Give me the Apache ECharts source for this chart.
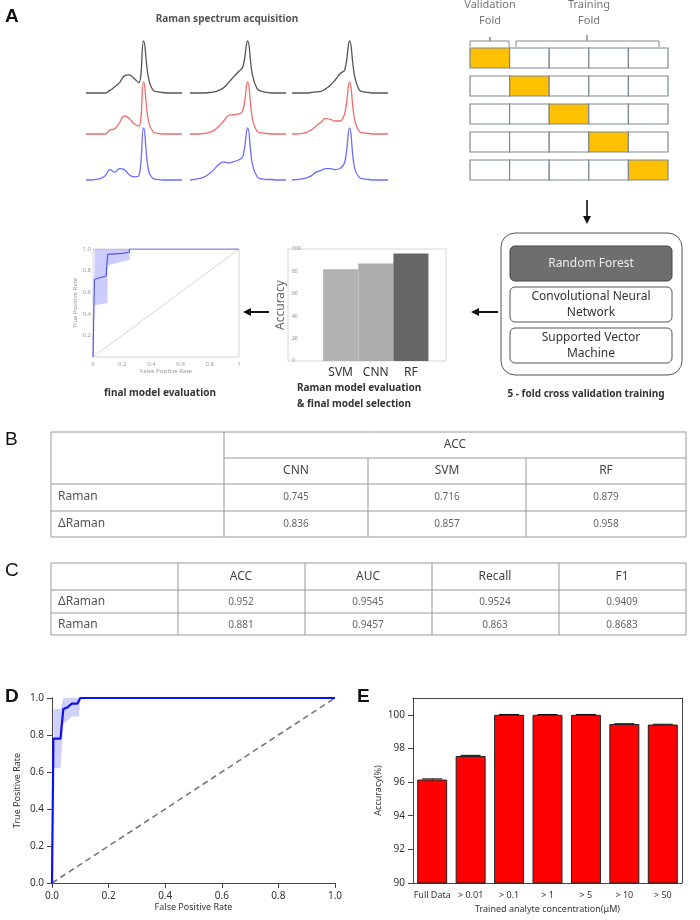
<!DOCTYPE html>
<html><head><meta charset="utf-8">
<script src="https://cdn.jsdelivr.net/npm/echarts@6/dist/echarts.min.js"></script>
<style>html,body{margin:0;padding:0;background:#fff}#c{width:700px;height:920px}</style>
</head><body><div id="c"></div>
<script>
// ---------- data ----------
const specX = [0,0.05,0.1,0.15,0.2,0.25,0.3,0.35,0.4,0.45,0.5,0.55,0.6,0.65,0.7,0.75,0.8,0.85,0.9,0.95,1];
const specBlack1 = [0,0,0,0,0,0.05,0.12,0.2,0.33,0.35,0.28,0.2,1,0.3,0.05,0.02,0.01,0,0,0,0];
const specRed1   = [0,0,0,0,0,0.08,0.1,0.22,0.35,0.3,0.2,0.15,1,0.25,0.04,0.01,0,0,0,0,0];
const specBlue1  = [0,0,0.01,0.03,0.08,0.2,0.15,0.22,0.2,0.1,0.06,0.08,1,0.2,0.03,0.01,0,0,0,0,0];
const specBlack2 = [0,0,0,0,0.01,0.02,0.05,0.1,0.2,0.3,0.4,0.5,1,0.35,0.08,0.03,0.01,0,0,0,0];
const specRed2   = [0,0,0,0.01,0.03,0.07,0.15,0.25,0.35,0.37,0.38,0.45,1,0.3,0.05,0.02,0.01,0,0,0,0];
const specBlue2  = [0,0.01,0.03,0.06,0.12,0.2,0.3,0.35,0.33,0.35,0.38,0.45,1,0.3,0.06,0.02,0.01,0.01,0,0,0];
const specBlack3 = [0,0,0,0,0.01,0.02,0.03,0.08,0.15,0.25,0.37,0.45,1,0.35,0.06,0.02,0.01,0,0,0,0];
const specRed3   = [0,0,0.01,0.03,0.08,0.15,0.22,0.3,0.28,0.25,0.25,0.4,1,0.3,0.05,0.02,0.01,0,0,0,0];
const specBlue3  = [0,0.01,0.02,0.04,0.08,0.15,0.18,0.22,0.22,0.2,0.22,0.35,1,0.25,0.05,0.02,0.01,0,0,0,0];

const foldRows = [0,1,2,3,4];
const foldCols = [0,1,2,3,4];
const validationCol = [0,1,2,3,4]; // validation fold column per row

const miniModels = ['SVM','CNN','RF'];
const miniAcc = [82,87,96];
const miniRocFpr = [0,0.01,0.09,0.1,0.2,0.25,0.25,1];
const miniRocTpr = [0,0.72,0.75,0.95,0.96,0.97,1,1];
const miniBand = [[0.01,0.48,1],[0.1,0.5,1],[0.1,0.85,1],[0.25,0.9,1],[0.25,1,1]];

const tableBModels = ['CNN','SVM','RF'];
const tableBRows = ['Raman','ΔRaman'];
const tableBVals = [['0.745','0.716','0.879'],['0.836','0.857','0.958']];
const tableCCols = ['ACC','AUC','Recall','F1'];
const tableCRows = ['ΔRaman','Raman'];
const tableCVals = [['0.952','0.9545','0.9524','0.9409'],['0.881','0.9457','0.863','0.8683']];

const rocFpr = [0,0.005,0.03,0.04,0.055,0.07,0.09,0.1,1];
const rocTpr = [0,0.78,0.78,0.94,0.95,0.97,0.97,1,1];
const rocBand = [[0.005,0.62,0.94],[0.03,0.62,0.94],[0.04,0.86,1],[0.07,0.9,1],[0.095,0.9,1],[0.1,1,1]];

const concCats = ['Full Data','> 0.01','> 0.1','> 1','> 5','> 10','> 50'];
const concAcc = [96.15,97.55,100,100,100,99.45,99.42];
const concErr = [0.04,0.04,0.02,0.02,0.02,0.02,0.02];

// ---------- build ----------
const grids=[], xAxes=[], yAxes=[], series=[], extraX=[], extraY=[];
function addGrid(g,x,y){grids.push(g);const i=grids.length-1;x.gridIndex=i;y.gridIndex=i;xAxes.push(x);yAxes.push(y);return i;}

// spectra
const specCols=[[specBlack1,specRed1,specBlue1],[specBlack2,specRed2,specBlue2],[specBlack3,specRed3,specBlue3]];
const colLeft=[86,190,292], rowBase=[93,134,180], specColors=['#555','#f26a6a','#6c6cff'];
specCols.forEach((col,ci)=>col.forEach((arr,ri)=>{
  const gi=addGrid({left:colLeft[ci],top:rowBase[ri]-52,width:96,height:52},
    {type:'value',min:0,max:1,show:false},{type:'value',min:0,max:1,show:false});
  series.push({type:'line',xAxisIndex:gi,yAxisIndex:gi,smooth:0.45,symbol:'none',clip:false,
    lineStyle:{color:specColors[ri],width:1.3},data:specX.map((x,k)=>[x,arr[k]])});
}));

// folds
const gF=addGrid({left:470,top:44,width:198,height:140},
  {type:'category',data:foldCols,show:false},{type:'category',data:foldRows,inverse:true,show:false});
const foldData=[];foldRows.forEach(r=>foldCols.forEach(c=>foldData.push([c,r,validationCol[r]===c?1:0])));
series.push({type:'custom',xAxisIndex:gF,yAxisIndex:gF,data:foldData,renderItem:(p,api)=>{
  const pt=api.coord([api.value(0),api.value(1)]);const s=api.size([1,1]);
  return {type:'rect',shape:{x:pt[0]-s[0]/2,y:pt[1]-s[1]/2+4,width:s[0],height:s[1]-8},
    style:{fill:api.value(2)?'#ffc000':'#fff',stroke:'#7d8790',lineWidth:1.2}};}});

// mini roc
const gR=addGrid({left:93,top:249,width:146,height:108},
  {type:'value',min:0,max:1,interval:0.2,axisLine:{show:false},axisTick:{show:false},splitLine:{show:false},
   axisLabel:{fontSize:6,color:'#999',margin:4},name:'False Positive Rate',nameLocation:'middle',nameGap:9,nameTextStyle:{fontSize:6,color:'#999'}},
  {type:'value',min:0,max:1,interval:0.2,axisLine:{show:false},axisTick:{show:false},splitLine:{show:false},
   axisLabel:{fontSize:6,color:'#999',margin:2,formatter:v=>v===0?'':v.toFixed(1)},name:'True Positive Rate',nameLocation:'middle',nameGap:14,nameTextStyle:{fontSize:6,color:'#999'}});
series.push({type:'custom',xAxisIndex:gR,yAxisIndex:gR,data:[0],renderItem:(p,api)=>{
  const up=miniBand.map(d=>api.coord([d[0],d[2]])),lo=miniBand.slice().reverse().map(d=>api.coord([d[0],d[1]]));
  return {type:'polygon',shape:{points:up.concat(lo)},style:{fill:'rgba(110,110,255,0.35)'}};}});
series.push({type:'line',xAxisIndex:gR,yAxisIndex:gR,symbol:'none',data:[[0,0],[1,1]],lineStyle:{color:'#ccc',width:0.8}});
series.push({type:'line',xAxisIndex:gR,yAxisIndex:gR,symbol:'none',data:miniRocFpr.map((x,i)=>[x,miniRocTpr[i]]),lineStyle:{color:'#5555ee',width:1.2}});

// mini bar
const gB=addGrid({left:288,top:249,width:158,height:112},
  {type:'value',min:0,max:4.5,show:false},
  {type:'value',min:0,max:100,interval:20,axisLine:{show:false},axisTick:{show:false},splitLine:{show:false},
   axisLabel:{inside:true,fontSize:5,color:'#888',margin:4}});
series.push({type:'bar',xAxisIndex:gB,yAxisIndex:gB,barWidth:35,
  data:miniAcc.map((v,i)=>({value:[1.5+i,v],itemStyle:{color:['#b2b2b2','#acacac','#666'][i]}}))});
series.push({type:'custom',xAxisIndex:gB,yAxisIndex:gB,data:miniModels.map((m,i)=>[1.5+i,0,m]),renderItem:(p,api)=>{
  const pt=api.coord([api.value(0),0]);
  return {type:'text',style:{text:miniModels[p.dataIndex],x:pt[0],y:pt[1]+6,align:'center',fill:'#333',font:'12px "Noto Sans"'}};}});

// ROC D
const gD=addGrid({left:52,top:698,width:283,height:185},
  {type:'value',min:0,max:1,interval:0.2,axisLine:{onZero:false,lineStyle:{color:'#444'}},axisTick:{lineStyle:{color:'#444'}},splitLine:{show:false},
   axisLabel:{fontSize:10,color:'#333',formatter:v=>v.toFixed(1)},name:'False Positive Rate',nameLocation:'middle',nameGap:20,nameTextStyle:{fontSize:9,color:'#333'}},
  {type:'value',min:0,max:1,interval:0.2,axisLine:{lineStyle:{color:'#444'}},axisTick:{lineStyle:{color:'#444'}},splitLine:{show:false},
   axisLabel:{fontSize:10,color:'#333',formatter:v=>v.toFixed(1)},name:'True Positive Rate',nameLocation:'middle',nameGap:30,nameTextStyle:{fontSize:9,color:'#333'}});
extraX.push({type:'value',gridIndex:gD,position:'top',min:0,max:1,axisLine:{lineStyle:{color:'#444'}},axisTick:{show:false},axisLabel:{show:false},splitLine:{show:false}});
extraY.push({type:'value',gridIndex:gD,position:'right',min:0,max:1,axisLine:{lineStyle:{color:'#444'}},axisTick:{show:false},axisLabel:{show:false},splitLine:{show:false}});
series.push({type:'custom',xAxisIndex:gD,yAxisIndex:gD,data:[0],renderItem:(p,api)=>{
  const up=rocBand.map(d=>api.coord([d[0],d[2]])),lo=rocBand.slice().reverse().map(d=>api.coord([d[0],d[1]]));
  return {type:'polygon',shape:{points:up.concat(lo)},style:{fill:'rgba(100,100,255,0.3)'}};}});
series.push({type:'line',xAxisIndex:gD,yAxisIndex:gD,symbol:'none',data:[[0,0],[1,1]],lineStyle:{color:'#777',width:1.6,type:[6,4]}});
series.push({type:'line',xAxisIndex:gD,yAxisIndex:gD,symbol:'none',data:rocFpr.map((x,i)=>[x,rocTpr[i]]),lineStyle:{color:'#1010ee',width:2.2}});

// Bar E
const gE=addGrid({left:413,top:698,width:269,height:185},
  {type:'category',data:concCats,axisLine:{lineStyle:{color:'#444'}},axisTick:{alignWithLabel:true,lineStyle:{color:'#444'}},
   axisLabel:{fontSize:9,color:'#333',interval:0},name:'Trained analyte concentration(μM)',nameLocation:'middle',nameGap:22,nameTextStyle:{fontSize:9,color:'#333'}},
  {type:'value',min:90,max:101,interval:2,axisLine:{show:true,lineStyle:{color:'#444'}},axisTick:{show:true,lineStyle:{color:'#444'}},splitLine:{show:false},
   axisLabel:{fontSize:10,color:'#333',showMaxLabel:false},name:'Accuracy(%)',nameLocation:'middle',nameGap:30,nameTextStyle:{fontSize:9,color:'#333'}});
extraX.push({type:'category',gridIndex:gE,position:'top',data:concCats,axisLine:{lineStyle:{color:'#444'}},axisTick:{show:false},axisLabel:{show:false}});
extraY.push({type:'value',gridIndex:gE,position:'right',min:90,max:101,axisLine:{show:true,lineStyle:{color:'#444'}},axisTick:{show:false},axisLabel:{show:false},splitLine:{show:false}});
series.push({type:'bar',xAxisIndex:gE,yAxisIndex:gE,barCategoryGap:'22%',data:concAcc,itemStyle:{color:'#ff0000',borderColor:'#222',borderWidth:1}});
series.push({type:'custom',xAxisIndex:gE,yAxisIndex:gE,data:concAcc.map((v,i)=>[i,v-concErr[i],v+concErr[i]]),renderItem:(p,api)=>{
  const a=api.coord([api.value(0),api.value(1)]),b=api.coord([api.value(0),api.value(2)]);
  return {type:'group',children:[{type:'line',shape:{x1:a[0],y1:a[1],x2:b[0],y2:b[1]},style:{stroke:'#000',lineWidth:1}},
    {type:'line',shape:{x1:a[0]-10,y1:b[1],x2:a[0]+10,y2:b[1]},style:{stroke:'#000',lineWidth:1}}]};}});

// ---------- graphics (annotations, tables) ----------
const G=[];
const T=(t,x,y,o={})=>G.push({type:'text',x,y,style:Object.assign({text:t,fill:'#333',font:'12px "Noto Sans"',textAlign:'center',textVerticalAlign:'middle'},o)});
const L=(x1,y1,x2,y2,c='#888',w=1)=>G.push({type:'line',shape:{x1,y1,x2,y2},style:{stroke:c,lineWidth:w}});
const R=(x,y,w,h,o)=>G.push({type:'rect',shape:{x,y,width:w,height:h,r:o.r||0},style:o});
T('A',5,17,{font:'bold 19px "Liberation Sans"',textAlign:'left',fill:'#111'});
T('B',5,440,{font:'19px "Liberation Sans"',textAlign:'left',fill:'#111'});
T('C',5,571,{font:'19px "Liberation Sans"',textAlign:'left',fill:'#111'});
T('D',5,697,{font:'bold 19px "Liberation Sans"',textAlign:'left',fill:'#111'});
T('E',357,697,{font:'bold 19px "Liberation Sans"',textAlign:'left',fill:'#111'});
T('Raman spectrum acquisition',227,19,{font:'bold 10px "Noto Sans"',fill:'#555'});
T('Validation',490,5,{fill:'#777',font:'11px "Noto Sans"'});T('Fold',490,21,{fill:'#777',font:'11px "Noto Sans"'});
T('Training',589,5,{fill:'#777',font:'11px "Noto Sans"'});T('Fold',589,21,{fill:'#777',font:'11px "Noto Sans"'});
G.push({type:'polyline',shape:{points:[[470,47],[470,41],[490,41],[490,37],[490,41],[509,41],[509,47]]},style:{stroke:'#888',fill:null,lineWidth:1}});
G.push({type:'polyline',shape:{points:[[516,47],[516,41],[587,41],[587,35],[587,41],[659,41],[659,47]]},style:{stroke:'#888',fill:null,lineWidth:1}});
// arrows
L(587,200,587,220,'#111',1.6);G.push({type:'polygon',shape:{points:[[583,216],[591,216],[587,224]]},style:{fill:'#111'}});
L(475,312,498,312,'#111',2);G.push({type:'polygon',shape:{points:[[479,308],[479,316],[471,312]]},style:{fill:'#111'}});
L(248,312,269,312,'#111',2);G.push({type:'polygon',shape:{points:[[251,308],[251,316],[243,312]]},style:{fill:'#111'}});
// model box
R(501,233,181,142,{r:14,fill:'#fff',stroke:'#555',lineWidth:1});
R(510,246,162,35,{r:5,fill:'#6e6e6e',stroke:'#444',lineWidth:1});T('Random Forest',591,264,{fill:'#eee'});
R(510,287,162,35,{r:5,fill:'#fff',stroke:'#555',lineWidth:1});T('Convolutional Neural',591,297);T('Network',591,313);
R(510,328,162,35,{r:5,fill:'#fff',stroke:'#555',lineWidth:1});T('Supported Vector',591,338);T('Machine',591,354);
T('5 - fold cross validation training',586,394,{font:'bold 10px "Noto Sans"',fill:'#333'});
T('final model evaluation',160,393,{font:'bold 10px "Noto Sans"'});
T('Raman model evaluation',297,388,{font:'bold 10px "Noto Sans"',textAlign:'left'});
T('& final model selection',297,404,{font:'bold 10px "Noto Sans"',textAlign:'left'});
G.push({type:'text',x:281,y:305,rotation:Math.PI/2,style:{text:'Accuracy',fill:'#666',font:'12px "Noto Sans"',textAlign:'center',textVerticalAlign:'middle'}});
R(288,249,158,112,{fill:null,stroke:'#ccc',lineWidth:0.8});
R(93,249,146,108,{fill:null,stroke:'#ccc',lineWidth:0.8});
// table B
const bc='#999';
R(51,432,635,105,{fill:null,stroke:bc,lineWidth:1});
L(224,458,686,458,bc);L(51,484,686,484,bc);L(51,511,686,511,bc);
L(224,432,224,537,bc);L(368,458,368,537,bc);L(526,458,526,537,bc);
T('ACC',455,445,{fill:'#444'});
const bCx=[296,447,606];
tableBModels.forEach((m,i)=>T(m,bCx[i],471,{fill:'#444'}));
tableBRows.forEach((r,ri)=>{const y=[497,524][ri];T(r,58,y,{textAlign:'left',fill:'#555'});
  tableBVals[ri].forEach((v,ci)=>T(v,bCx[ci],y,{font:'10px "Noto Sans"',fill:'#666'}));});
// table C
R(51,563,635,72,{fill:null,stroke:bc,lineWidth:1});
L(51,590,686,590,bc);L(51,613,686,613,bc);
[178,305,432,559].forEach(x=>L(x,563,x,635,bc));
const cCx=[241,368,495,622];
tableCCols.forEach((m,i)=>T(m,cCx[i],577,{fill:'#444'}));
tableCRows.forEach((r,ri)=>{const y=[602,625][ri];T(r,58,y,{textAlign:'left',fill:'#555'});
  tableCVals[ri].forEach((v,ci)=>T(v,cCx[ci],y,{font:'10px "Noto Sans"',fill:'#666'}));});

const chart=echarts.init(document.getElementById('c'));
chart.setOption({animation:false,grid:grids,xAxis:xAxes.concat(extraX),yAxis:yAxes.concat(extraY),series,graphic:G,textStyle:{fontFamily:'Noto Sans'}});
</script></body></html>
